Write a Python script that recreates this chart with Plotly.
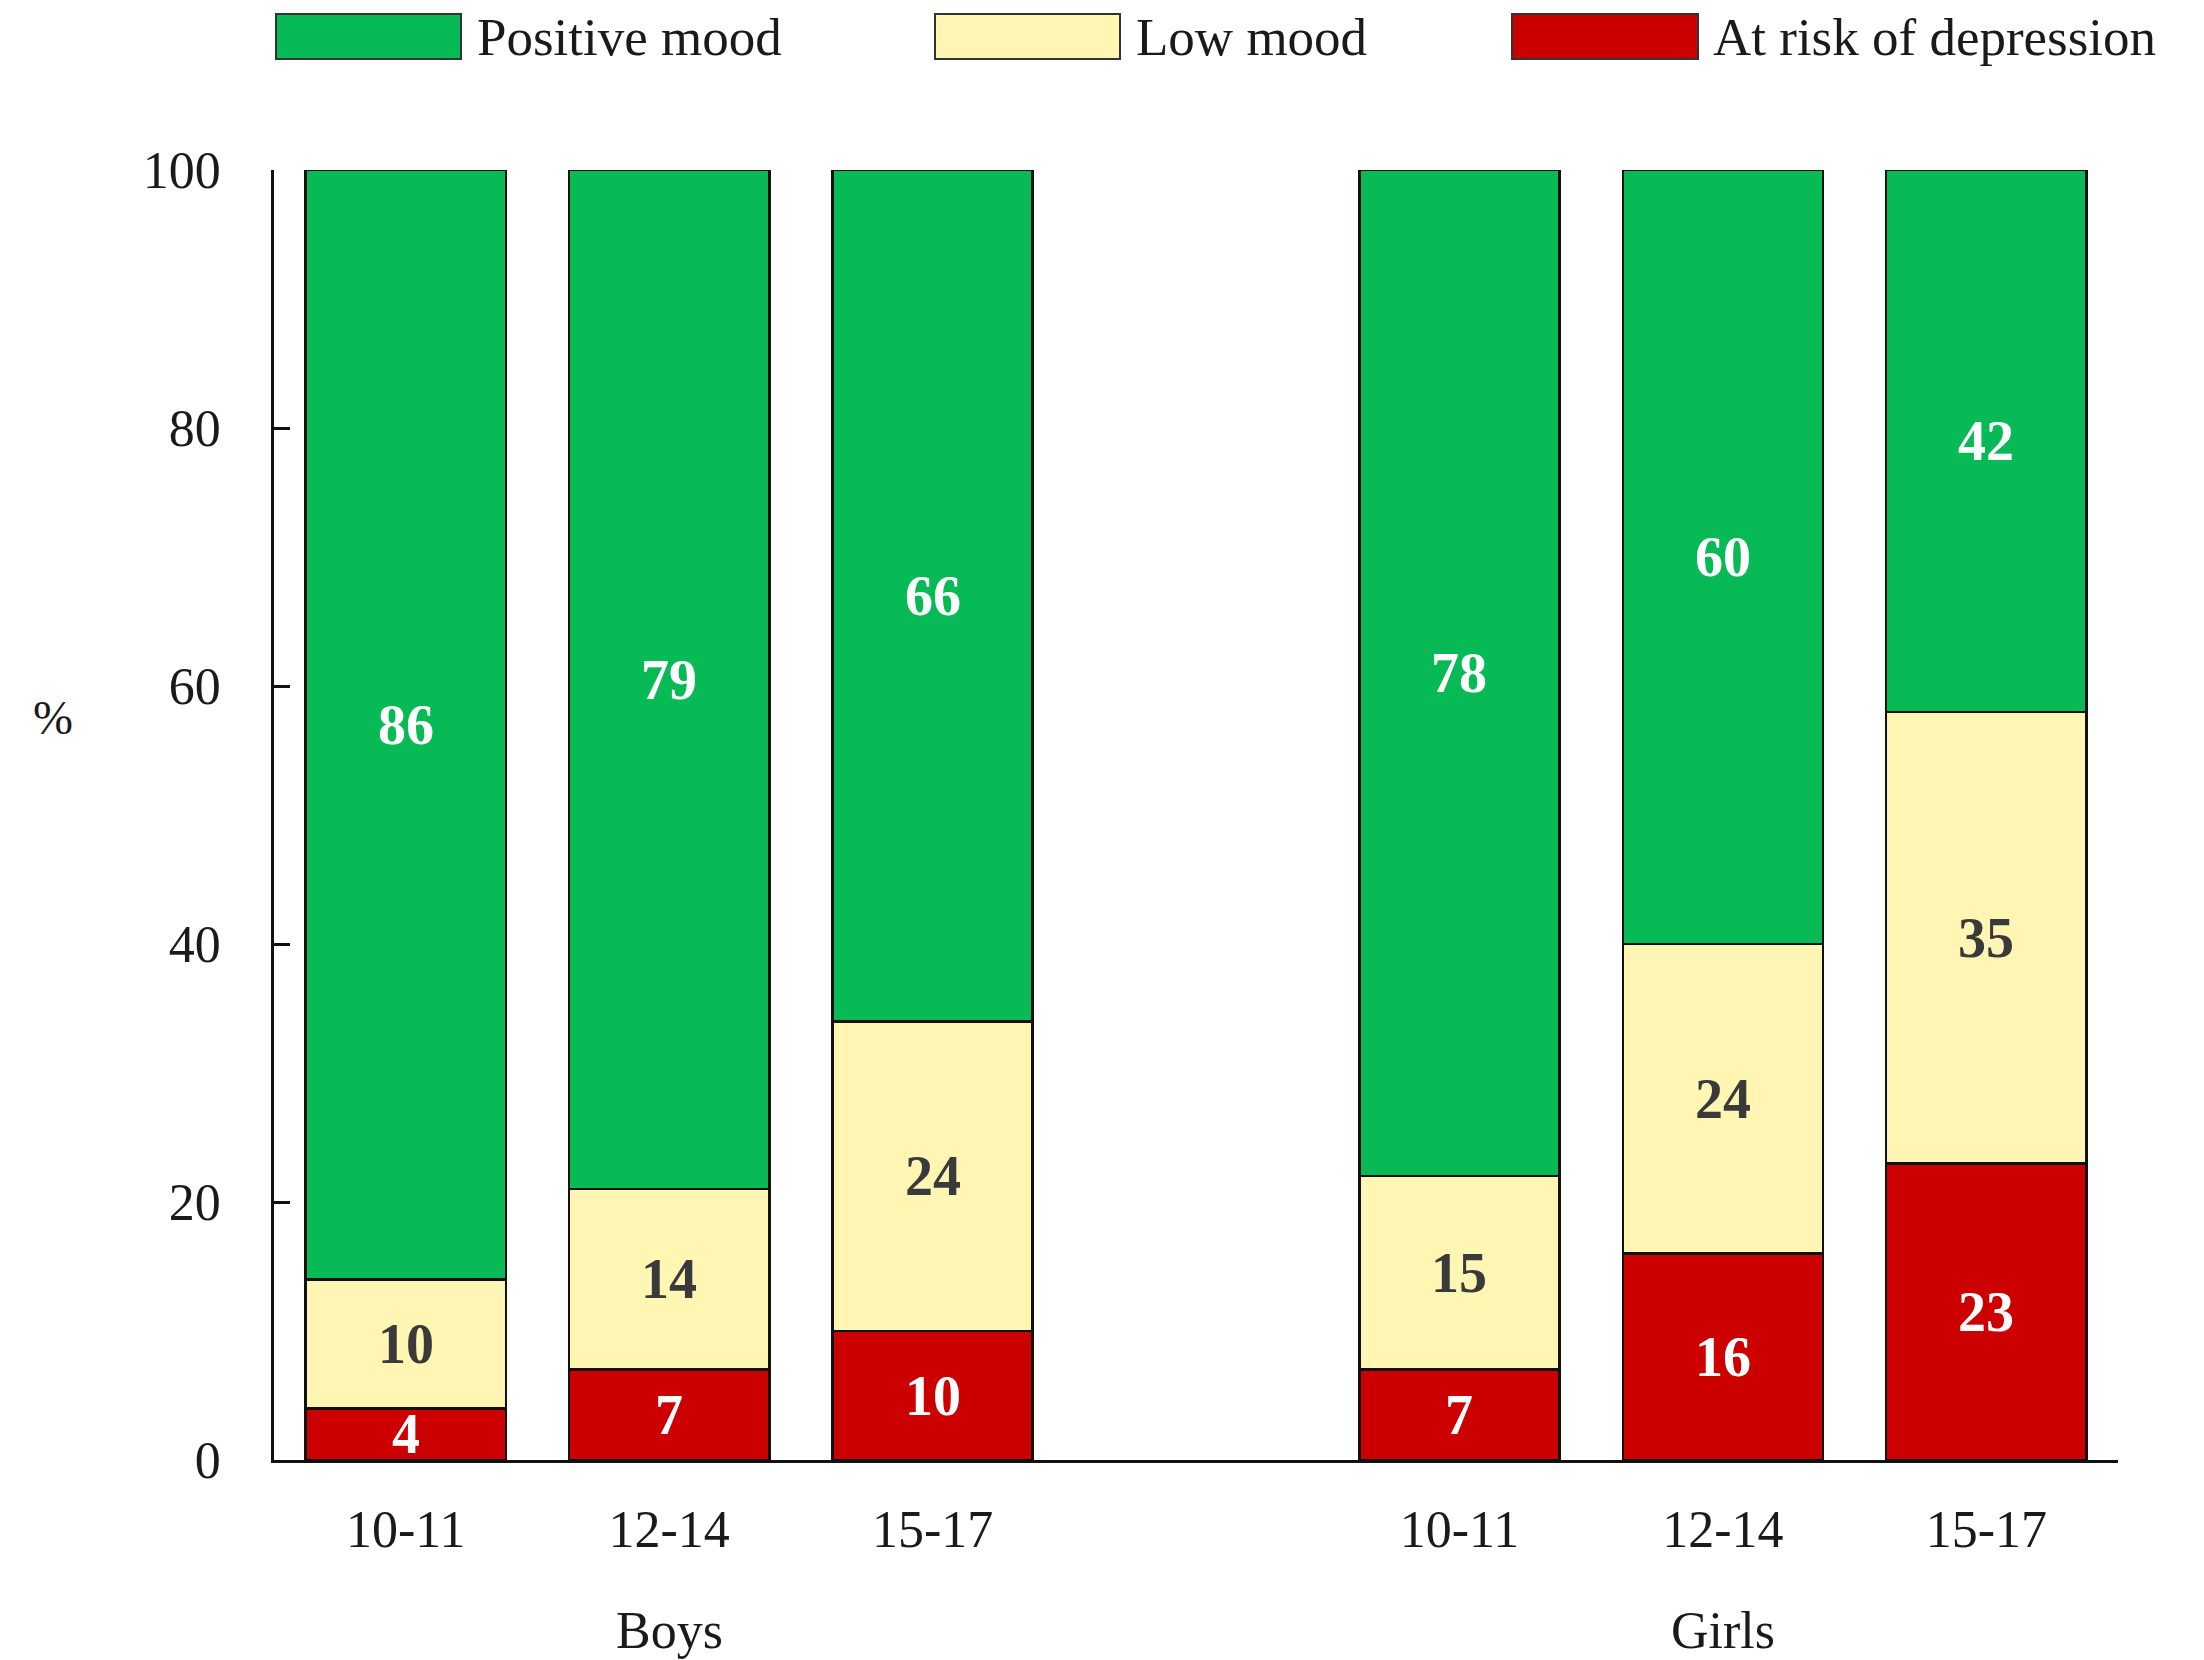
import plotly.graph_objects as go

# Age bands per sex, share of children (%) in each mood category
groups = ["Boys", "Girls"]
ages = ["10-11", "12-14", "15-17"]
series_names = ["At risk of depression", "Low mood", "Positive mood"]
at_risk = {"Boys": [4, 7, 10], "Girls": [7, 16, 23]}
low_mood = {"Boys": [10, 14, 24], "Girls": [15, 24, 35]}
positive = {"Boys": [86, 79, 66], "Girls": [78, 60, 42]}
y_ticks = [0, 20, 40, 60, 80, 100]

colors = {
    "Positive mood": "#08BA56",
    "Low mood": "#FFF6B4",
    "At risk of depression": "#CC0000",
}
label_colors = {
    "Positive mood": "white",
    "Low mood": "#3a3a3a",
    "At risk of depression": "white",
}
values = {
    "At risk of depression": at_risk,
    "Low mood": low_mood,
    "Positive mood": positive,
}

FONT = "Liberation Serif"
TEXT = "#1a1a1a"
W, H = 2204, 1660
L, R, T, B = 274, 86, 170, 200

# category keys, with an empty slot between the two sexes
keys = {g: [f"{g}|{a}" for a in ages] for g in groups}
cat_order = keys["Boys"] + ["gap"] + keys["Girls"]

fig = go.Figure()
for name in series_names:
    xs, ys = [], []
    for g in groups:
        xs += keys[g]
        ys += values[name][g]
    fig.add_trace(go.Bar(
        x=xs, y=ys, name=name,
        marker=dict(color=colors[name], line=dict(color="#111111", width=2.5)),
        showlegend=False,
    ))

# value labels at the middle of each segment
annotations = []
for g in groups:
    for i, k in enumerate(keys[g]):
        base = 0
        for name in series_names:
            v = values[name][g][i]
            annotations.append(dict(
                x=k, y=base + v / 2, xref="x", yref="y", text=f"<b>{v}</b>",
                showarrow=False, yanchor="middle",
                font=dict(family=FONT, size=56, color=label_colors[name]),
            ))
            base += v


def px_x(p):
    return (p - L) / (W - L - R)


def px_y(p):
    return (H - B - p) / (H - T - B)


# sex labels under the age ticks
for g in groups:
    annotations.append(dict(
        x=keys[g][1], y=px_y(1631), xref="x", yref="paper",
        text=g, showarrow=False, yanchor="middle",
        font=dict(family=FONT, size=52, color=TEXT),
    ))

annotations.append(dict(
    x=px_x(53), y=px_y(717), xref="paper", yref="paper", text="%",
    showarrow=False, xanchor="center", yanchor="middle",
    font=dict(family=FONT, size=48, color=TEXT),
))

# legend drawn as wide swatches across the top
shapes = []
legend_items = [("Positive mood", 276, 461, 475),
                ("Low mood", 935, 1120, 1134),
                ("At risk of depression", 1512, 1698, 1711)]
for name, x0, x1, tx in legend_items:
    shapes.append(dict(
        type="rect", xref="paper", yref="paper",
        x0=px_x(x0), x1=px_x(x1), y0=px_y(59), y1=px_y(14),
        fillcolor=colors[name], line=dict(color="#333333", width=2),
    ))
    annotations.append(dict(
        x=px_x(tx), y=px_y(37), xref="paper", yref="paper", text=name,
        showarrow=False, xanchor="left", yanchor="middle",
        font=dict(family=FONT, size=53, color=TEXT),
    ))

fig.update_layout(
    width=W, height=H,
    margin=dict(l=L, r=R, t=T, b=B, pad=0),
    barmode="stack", bargap=0.24,
    plot_bgcolor="white", paper_bgcolor="white",
    font=dict(family=FONT, size=52, color=TEXT),
    annotations=annotations, shapes=shapes,
    showlegend=False,
)
fig.update_xaxes(
    type="category", categoryorder="array", categoryarray=cat_order,
    tickvals=keys["Boys"] + keys["Girls"], ticktext=ages + ages,
    showline=True, linecolor="#111111", linewidth=2.5,
    ticks="", showgrid=False, zeroline=False,
    ticklabelstandoff=22,
    tickfont=dict(family=FONT, size=52, color=TEXT),
)
fig.update_yaxes(
    range=[0, 100], tickvals=y_ticks,
    showline=True, linecolor="#111111", linewidth=2.5,
    ticks="inside", ticklen=16, tickwidth=2.5, tickcolor="#111111",
    showgrid=False, zeroline=False,
    ticklabelstandoff=40,
    tickfont=dict(family=FONT, size=52, color=TEXT),
)

fig.write_html("out.html")
